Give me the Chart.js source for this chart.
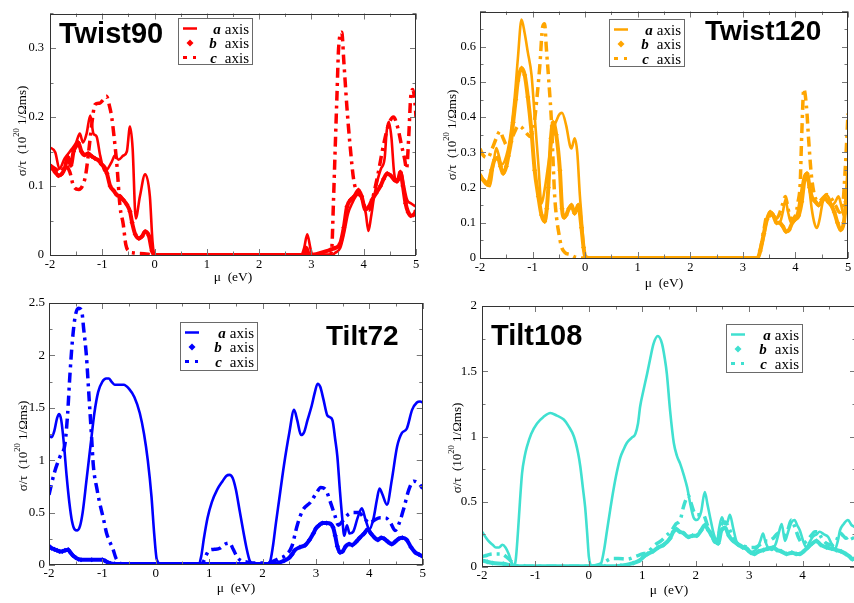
<!DOCTYPE html>
<html><head><meta charset="utf-8">
<script src="https://cdn.jsdelivr.net/npm/chart.js@4/dist/chart.umd.min.js"></script>
<style>
html,body{margin:0;padding:0;background:#fff;overflow:hidden;width:854px;height:603px;position:relative}
canvas{position:absolute;display:block}
</style></head><body>
<canvas id="c1" width="427" height="290" style="left:0;top:0"></canvas>
<canvas id="c2" width="427" height="290" style="left:427px;top:0"></canvas>
<canvas id="c3" width="427" height="313" style="left:0;top:290px"></canvas>
<canvas id="c4" width="435" height="313" style="left:427px;top:290px"></canvas>
<script>
// ---------------- data ----------------
const panelTitles = ['Twist90', 'Twist120', 'Tilt72', 'Tilt108'];
const seriesLetters = ['a', 'b', 'c'];
const seriesWord = 'axis';
const xTitle = 'μ  (eV)';
const yTitleParts = ['σ/τ  (10', '20', ' 1/Ωms)'];
const xTickVals = [-2, -1, 0, 1, 2, 3, 4, 5];
const xTickValsCut = [-2, -1, 0, 1, 2, 3, 4];
const yTicksTwist90 = [0, 0.1, 0.2, 0.3];
const yTicksTwist120 = [0, 0.1, 0.2, 0.3, 0.4, 0.5, 0.6];
const yTicksTilt72 = [0, 0.5, 1, 1.5, 2, 2.5];
const yTicksTilt108 = [0, 0.5, 1, 1.5, 2];

const twist90A = [[-2,.156],[-1.9,.149],[-1.82,.125],[-1.72,.14],[-1.65,.147],[-1.58,.154],[-1.5,.163],[-1.43,.176],[-1.37,.163],[-1.3,.176],[-1.23,.202],[-1.17,.176],[-1.11,.172],[-1.04,.144],[-0.95,.121],[-0.82,.135],[-0.76,.144],[-0.69,.138],[-0.6,.144],[-0.53,.15],[-0.47,.186],[-0.42,.155],[-0.36,.053],[-0.28,.085],[-0.18,.117],[-0.09,.085],[-0.04,.02],[0,0],[2.8,0],[2.86,.01],[2.92,.03],[2.98,.01],[3.02,0],[3.4,0],[3.45,.003],[3.55,.01],[3.62,.03],[3.7,.06],[3.78,.075],[3.85,.085],[3.92,.09],[3.98,.08],[4.04,.06],[4.09,.035],[4.14,.055],[4.2,.085],[4.27,.11],[4.33,.125],[4.4,.14],[4.44,.18],[4.48,.193],[4.53,.17],[4.58,.12],[4.63,.105],[4.68,.11],[4.72,.12],[4.77,.1],[4.83,.08],[4.9,.075],[5,.07]];
const twist90B = [[-2,.13],[-1.95,.125],[-1.9,.12],[-1.84,.115],[-1.78,.117],[-1.72,.125],[-1.66,.142],[-1.6,.13],[-1.55,.15],[-1.5,.158],[-1.46,.163],[-1.4,.15],[-1.34,.145],[-1.27,.147],[-1.2,.143],[-1.14,.14],[-1.07,.137],[-1.02,.132],[-0.96,.127],[-0.91,.118],[-0.85,.1],[-0.78,.093],[-0.72,.087],[-0.66,.085],[-0.6,.08],[-0.53,.073],[-0.47,.063],[-0.43,.047],[-0.37,.03],[-0.3,.024],[-0.24,.027],[-0.18,.034],[-0.11,.028],[-0.05,.006],[0,0],[2.85,0],[2.9,.01],[2.96,0],[3.36,.0075],[3.45,.01],[3.55,.0165],[3.62,.04],[3.68,.07],[3.75,.08],[3.82,.085],[3.9,.094],[3.96,.085],[4.03,.066],[4.1,.07],[4.16,.08],[4.24,.09],[4.32,.1],[4.38,.11],[4.45,.118],[4.52,.115],[4.6,.108],[4.66,.11],[4.7,.12],[4.75,.1],[4.8,.075],[4.85,.062],[4.9,.057],[4.95,.058],[5,.064]];
const twist90C = [[-2,.13],[-1.9,.125],[-1.8,.12],[-1.7,.13],[-1.62,.12],[-1.55,.1],[-1.45,.095],[-1.38,.1],[-1.32,.115],[-1.26,.15],[-1.2,.19],[-1.14,.218],[-1.05,.22],[-0.98,.225],[-0.92,.23],[-0.86,.215],[-0.82,.2],[-0.78,.175],[-0.72,.13],[-0.66,.07],[-0.6,.045],[-0.55,.015],[-0.5,.006],[-0.4,.003],[-0.2,.002],[0,0],[3.35,0],[3.39,.01],[3.42,.074],[3.46,.167],[3.49,.235],[3.52,.3],[3.58,.323],[3.62,.28],[3.68,.213],[3.74,.158],[3.81,.108],[3.88,.09],[3.95,.085],[4.02,.07],[4.1,.065],[4.18,.085],[4.28,.12],[4.38,.16],[4.48,.19],[4.57,.2],[4.65,.185],[4.72,.16],[4.78,.14],[4.82,.125],[4.86,.17],[4.9,.23],[4.94,.24],[4.98,.22],[5,.2]];

const twist120A = [[-2,.24],[-1.9,.21],[-1.81,.204],[-1.75,.26],[-1.69,.312],[-1.64,.29],[-1.59,.265],[-1.52,.28],[-1.43,.34],[-1.34,.457],[-1.28,.566],[-1.21,.677],[-1.15,.638],[-1.09,.584],[-1.02,.52],[-0.96,.403],[-0.89,.267],[-0.83,.154],[-0.77,.195],[-0.7,.267],[-0.61,.358],[-0.51,.403],[-0.44,.412],[-0.36,.376],[-0.29,.32],[-0.26,.311],[-0.2,.34],[-0.15,.3],[-0.1,.177],[-0.07,.12],[-0.03,.04],[0,0],[3.28,0],[3.33,.02],[3.4,.06],[3.46,.11],[3.52,.13],[3.58,.125],[3.64,.1],[3.7,.1],[3.76,.13],[3.81,.165],[3.86,.13],[3.92,.1],[3.98,.105],[4.04,.13],[4.1,.18],[4.16,.23],[4.21,.24],[4.26,.2],[4.31,.14],[4.36,.1],[4.41,.085],[4.46,.11],[4.52,.16],[4.58,.18],[4.64,.17],[4.7,.15],[4.76,.16],[4.82,.175],[4.87,.15],[4.92,.12],[4.96,.13],[5,.16]];
const twist120B = [[-2,.235],[-1.93,.22],[-1.85,.213],[-1.78,.25],[-1.72,.28],[-1.66,.285],[-1.61,.26],[-1.56,.24],[-1.5,.26],[-1.46,.29],[-1.41,.33],[-1.37,.385],[-1.32,.45],[-1.28,.503],[-1.21,.539],[-1.15,.52],[-1.09,.457],[-1.02,.358],[-0.96,.249],[-0.89,.175],[-0.83,.122],[-0.77,.104],[-0.73,.14],[-0.7,.2],[-0.65,.34],[-0.61,.385],[-0.55,.35],[-0.48,.249],[-0.44,.14],[-0.4,.115],[-0.36,.122],[-0.31,.14],[-0.26,.15],[-0.2,.127],[-0.13,.15],[-0.07,.086],[-0.03,.03],[0,.005],[0.05,0],[3.28,0],[3.33,.02],[3.4,.07],[3.46,.11],[3.52,.13],[3.58,.12],[3.64,.1],[3.7,.1],[3.76,.09],[3.82,.075],[3.88,.08],[3.94,.1],[4.0,.11],[4.06,.12],[4.12,.16],[4.17,.22],[4.22,.24],[4.27,.2],[4.32,.17],[4.38,.16],[4.44,.15],[4.5,.16],[4.56,.17],[4.62,.16],[4.68,.15],[4.74,.13],[4.8,.1],[4.86,.08],[4.92,.1],[4.96,.16],[5,.24]];
const twist120C = [[-2,.31],[-1.93,.29],[-1.85,.285],[-1.77,.31],[-1.69,.34],[-1.62,.36],[-1.56,.34],[-1.49,.32],[-1.42,.33],[-1.35,.355],[-1.27,.375],[-1.2,.37],[-1.12,.355],[-1.04,.345],[-0.98,.37],[-0.92,.45],[-0.86,.55],[-0.81,.655],[-0.77,.665],[-0.74,.6],[-0.69,.5],[-0.64,.385],[-0.61,.276],[-0.58,.177],[-0.54,.11],[-0.5,.07],[-0.45,.032],[-0.38,.015],[-0.29,.01],[-0.2,.003],[0,0],[3.28,0],[3.34,.03],[3.4,.08],[3.46,.12],[3.52,.12],[3.6,.11],[3.68,.12],[3.75,.15],[3.81,.175],[3.86,.14],[3.92,.11],[4.0,.12],[4.05,.16],[4.09,.21],[4.12,.35],[4.16,.48],[4.21,.43],[4.25,.34],[4.3,.24],[4.36,.18],[4.44,.16],[4.52,.17],[4.6,.18],[4.68,.17],[4.76,.15],[4.84,.13],[4.9,.15],[4.95,.26],[5,.41]];

const tilt72A = [[-2,1.23],[-1.95,1.22],[-1.9,1.28],[-1.85,1.4],[-1.81,1.44],[-1.77,1.38],[-1.72,1.15],[-1.67,.85],[-1.62,.6],[-1.57,.42],[-1.52,.34],[-1.47,.33],[-1.42,.37],[-1.37,.5],[-1.3,.8],[-1.22,1.15],[-1.15,1.45],[-1.08,1.65],[-1.0,1.75],[-0.93,1.78],[-0.88,1.78],[-0.83,1.75],[-0.77,1.72],[-0.7,1.72],[-0.6,1.72],[-0.5,1.68],[-0.4,1.6],[-0.3,1.45],[-0.22,1.25],[-0.15,1.0],[-0.08,.65],[-0.03,.3],[0.02,.05],[0.1,.01],[0.8,.01],[0.85,.08],[0.9,.25],[0.97,.45],[1.05,.6],[1.15,.72],[1.25,.8],[1.32,.85],[1.38,.86],[1.44,.83],[1.5,.72],[1.57,.52],[1.64,.32],[1.7,.16],[1.76,.04],[1.82,.01],[2.1,.01],[2.15,.05],[2.2,.2],[2.25,.4],[2.31,.62],[2.4,.95],[2.5,1.26],[2.59,1.48],[2.65,1.38],[2.72,1.24],[2.78,1.27],[2.84,1.38],[2.92,1.52],[2.98,1.65],[3.03,1.73],[3.08,1.7],[3.14,1.58],[3.21,1.43],[3.26,1.41],[3.31,1.38],[3.36,1.2],[3.4,1.04],[3.45,.7],[3.49,.46],[3.53,.28],[3.58,.38],[3.63,.3],[3.7,.32],[3.78,.45],[3.86,.54],[3.93,.43],[4.0,.34],[4.08,.45],[4.14,.62],[4.19,.73],[4.24,.68],[4.33,.575],[4.42,.81],[4.52,1.13],[4.61,1.26],[4.7,1.3],[4.8,1.48],[4.89,1.55],[4.95,1.56],[5,1.55]];
const tilt72B = [[-2,.18],[-1.95,.16],[-1.9,.15],[-1.85,.14],[-1.8,.13],[-1.75,.13],[-1.7,.14],[-1.64,.146],[-1.6,.12],[-1.55,.09],[-1.5,.07],[-1.45,.055],[-1.4,.05],[-1.2,.05],[-1.0,.05],[-0.95,.04],[-0.9,.025],[-0.85,.015],[-0.77,.01],[2.2,.01],[2.3,.02],[2.4,.04],[2.5,.07],[2.55,.1],[2.6,.14],[2.7,.17],[2.8,.19],[2.88,.24],[2.95,.3],[3.0,.35],[3.06,.38],[3.12,.4],[3.2,.4],[3.28,.39],[3.32,.36],[3.36,.28],[3.4,.18],[3.45,.12],[3.5,.13],[3.56,.18],[3.62,.2],[3.68,.19],[3.75,.22],[3.82,.26],[3.9,.3],[3.97,.34],[4.03,.3],[4.1,.26],[4.16,.24],[4.22,.26],[4.28,.25],[4.35,.22],[4.42,.2],[4.48,.22],[4.55,.25],[4.62,.26],[4.7,.24],[4.78,.17],[4.86,.12],[4.93,.1],[5,.08]];
const tilt72C = [[-2,.67],[-1.9,.88],[-1.79,1.04],[-1.7,1.16],[-1.65,1.45],[-1.61,1.8],[-1.56,2.15],[-1.51,2.37],[-1.45,2.45],[-1.39,2.43],[-1.35,2.25],[-1.3,2.0],[-1.25,1.6],[-1.2,1.2],[-1.17,.95],[-1.1,.72],[-1.05,.59],[-0.98,.44],[-0.92,.3],[-0.86,.22],[-0.8,.15],[-0.75,.07],[-0.7,.03],[-0.6,.01],[0.85,.01],[0.9,.04],[0.95,.1],[1.0,.14],[1.1,.15],[1.2,.16],[1.3,.2],[1.38,.21],[1.45,.15],[1.52,.08],[1.6,.04],[1.7,.03],[1.8,.02],[2.1,.02],[2.3,.06],[2.45,.1],[2.55,.18],[2.65,.38],[2.75,.52],[2.9,.6],[3.0,.68],[3.09,.74],[3.18,.72],[3.27,.6],[3.35,.48],[3.42,.38],[3.5,.42],[3.6,.48],[3.7,.5],[3.8,.5],[3.9,.45],[4.0,.4],[4.1,.43],[4.2,.45],[4.3,.45],[4.4,.4],[4.48,.33],[4.56,.4],[4.65,.55],[4.74,.72],[4.83,.8],[4.92,.78],[5,.73]];

const tilt108A = [[-2,.27],[-1.95,.24],[-1.88,.2],[-1.8,.17],[-1.74,.15],[-1.68,.15],[-1.62,.17],[-1.56,.15],[-1.5,.1],[-1.45,.04],[-1.41,.01],[-1.37,.05],[-1.33,.25],[-1.29,.5],[-1.25,.72],[-1.2,.85],[-1.16,.92],[-1.08,1.02],[-0.97,1.1],[-0.85,1.15],[-0.72,1.18],[-0.6,1.16],[-0.47,1.13],[-0.38,1.08],[-0.28,1.0],[-0.2,.87],[-0.16,.77],[-0.11,.6],[-0.07,.46],[-0.03,.25],[0,.08],[0.05,.01],[0.15,.01],[0.22,.02],[0.28,.12],[0.34,.28],[0.4,.44],[0.46,.59],[0.52,.72],[0.59,.84],[0.65,.9],[0.71,.95],[0.8,.99],[0.87,1.02],[0.92,1.1],[0.96,1.23],[1.02,1.35],[1.09,1.48],[1.15,1.6],[1.21,1.71],[1.29,1.77],[1.37,1.71],[1.42,1.6],[1.46,1.48],[1.52,1.2],[1.59,.95],[1.65,.85],[1.71,.79],[1.78,.7],[1.84,.61],[1.9,.48],[1.96,.38],[2.02,.36],[2.1,.42],[2.17,.575],[2.22,.48],[2.27,.38],[2.34,.25],[2.4,.2],[2.44,.3],[2.49,.38],[2.54,.33],[2.59,.34],[2.64,.4],[2.7,.3],[2.76,.2],[2.84,.17],[2.91,.15],[3.0,.115],[3.08,.12],[3.16,.15],[3.21,.2],[3.26,.256],[3.3,.2],[3.35,.15],[3.42,.13],[3.5,.18],[3.56,.27],[3.61,.33],[3.67,.2],[3.73,.27],[3.79,.34],[3.85,.36],[3.9,.32],[3.95,.28],[4.01,.2],[4.07,.15],[4.13,.19],[4.19,.23],[4.26,.25],[4.32,.27],[4.4,.25],[4.48,.23],[4.54,.18],[4.6,.13],[4.66,.2],[4.7,.28],[4.77,.33],[4.85,.36],[4.92,.32],[4.96,.31],[5,.3]];
const tilt108B = [[-2,.05],[-1.9,.04],[-1.8,.03],[-1.6,.025],[-1.45,.01],[-1.2,.005],[0,.005],[0.3,.005],[0.6,.01],[0.83,.03],[0.95,.05],[1.02,.077],[1.1,.1],[1.2,.12],[1.3,.15],[1.4,.17],[1.52,.22],[1.58,.27],[1.64,.29],[1.7,.27],[1.77,.26],[1.86,.23],[1.94,.24],[2.02,.24],[2.1,.28],[2.17,.32],[2.24,.28],[2.3,.24],[2.36,.2],[2.42,.18],[2.48,.28],[2.55,.3],[2.62,.24],[2.7,.2],[2.8,.17],[2.88,.15],[2.96,.14],[3.03,.11],[3.1,.1],[3.18,.12],[3.27,.13],[3.35,.14],[3.45,.15],[3.52,.13],[3.6,.12],[3.7,.1],[3.8,.11],[3.88,.1],[3.95,.1],[4.02,.12],[4.1,.15],[4.18,.18],[4.26,.2],[4.34,.17],[4.45,.15],[4.55,.14],[4.63,.13],[4.72,.12],[4.81,.1],[4.88,.08],[4.93,.06],[5,.07]];
const tilt108C = [[-2,.08],[-1.9,.09],[-1.81,.1],[-1.72,.1],[-1.63,.1],[-1.55,.08],[-1.47,.05],[-1.4,.02],[-1.35,.01],[-1.0,.005],[0,.005],[0.2,.02],[0.3,.04],[0.43,.065],[0.55,.065],[0.71,.06],[0.87,.08],[1.0,.1],[1.09,.11],[1.17,.14],[1.24,.17],[1.35,.2],[1.45,.24],[1.55,.28],[1.63,.33],[1.71,.36],[1.77,.46],[1.82,.52],[1.86,.55],[1.92,.48],[1.97,.42],[2.02,.4],[2.08,.4],[2.14,.4],[2.22,.32],[2.3,.24],[2.36,.19],[2.43,.25],[2.49,.33],[2.55,.345],[2.62,.3],[2.7,.22],[2.8,.17],[2.9,.16],[3.0,.15],[3.1,.15],[3.2,.17],[3.28,.2],[3.36,.2],[3.45,.22],[3.55,.26],[3.65,.24],[3.72,.28],[3.79,.36],[3.86,.3],[3.93,.22],[4.0,.18],[4.08,.2],[4.16,.24],[4.23,.27],[4.29,.27],[4.36,.22],[4.45,.18],[4.55,.17],[4.63,.2],[4.7,.26],[4.76,.24],[4.81,.22],[4.9,.24],[4.96,.2],[5,.18]];

// ---------------- plugins ----------------
const SERIF = '"Liberation Serif", "Times New Roman", serif';
const frameTicks = {
  id: 'frameTicks',
  afterDatasetsDraw(chart, args, o) {
    const { ctx, chartArea: a, scales: { x, y } } = chart;
    ctx.save();
    ctx.strokeStyle = o.tickColor; ctx.lineWidth = 1;
    const isMaj = (v, m) => Math.abs(v / m - Math.round(v / m)) < 1e-6;
    const n1 = Math.round((x.max - x.min) / o.minorX);
    for (let i = 0; i <= n1; i++) {
      const v = x.min + i * o.minorX;
      const L = isMaj(v, o.majorX) ? 6 : 3.5;
      const p = Math.round(x.getPixelForValue(v)) + 0.5;
      ctx.beginPath();
      ctx.moveTo(p, a.bottom); ctx.lineTo(p, a.bottom - L);
      ctx.moveTo(p, a.top); ctx.lineTo(p, a.top + L);
      ctx.stroke();
    }
    const n2 = Math.round((y.max - y.min) / o.minorY);
    for (let i = 0; i <= n2; i++) {
      const v = y.min + i * o.minorY;
      const L = isMaj(v, o.majorY) ? 6 : 3.5;
      const p = Math.round(y.getPixelForValue(v)) + 0.5;
      ctx.beginPath();
      ctx.moveTo(a.left, p); ctx.lineTo(a.left + L, p);
      ctx.moveTo(a.right, p); ctx.lineTo(a.right - L, p);
      ctx.stroke();
    }
    ctx.strokeStyle = o.frameColor; ctx.lineWidth = 1;
    ctx.strokeRect(Math.round(a.left) + 0.5, Math.round(a.top) + 0.5, Math.round(a.width) - 1, Math.round(a.height) - 1);
    ctx.restore();
  }
};

const deco = {
  id: 'deco',
  afterDraw(chart, args, o) {
    const ctx = chart.ctx;
    const ox = o.offX, oy = o.offY;
    ctx.save();
    ctx.fillStyle = '#000';
    ctx.font = 'bold ' + o.titleSize + 'px "Liberation Sans", Arial, sans-serif';
    ctx.textAlign = 'left'; ctx.textBaseline = 'alphabetic';
    ctx.fillText(o.title, o.titleX - ox, o.titleY - oy);
    const L = o.legend, lx = L.x - ox, ly = L.y - oy;
    ctx.fillStyle = '#fff'; ctx.fillRect(lx, ly, L.w, L.h);
    ctx.strokeStyle = '#6a6a6a'; ctx.lineWidth = 1;
    ctx.strokeRect(lx + 0.5, ly + 0.5, L.w, L.h);
    for (let i = 0; i < 3; i++) {
      const ry = ly + 10.5 + i * 14.5;
      ctx.fillStyle = o.color; ctx.strokeStyle = o.color;
      if (i === 0) {
        ctx.lineWidth = 2.5; ctx.beginPath(); ctx.moveTo(lx + 5, ry); ctx.lineTo(lx + 19, ry); ctx.stroke();
      } else if (i === 1) {
        ctx.beginPath(); ctx.moveTo(lx + 12, ry - 3.5); ctx.lineTo(lx + 15.5, ry); ctx.lineTo(lx + 12, ry + 3.5); ctx.lineTo(lx + 8.5, ry); ctx.closePath(); ctx.fill();
      } else {
        ctx.fillRect(lx + 5, ry - 1.5, 4, 3); ctx.fillRect(lx + 15, ry - 1.5, 3, 3);
      }
      ctx.fillStyle = '#000';
      ctx.font = '15px ' + SERIF; ctx.textAlign = 'right';
      const wx = lx + L.w - 3;
      ctx.fillText(seriesWord, wx, ry + 5);
      const ww = ctx.measureText(seriesWord).width;
      ctx.font = 'italic bold 15px ' + SERIF;
      ctx.fillText(seriesLetters[i], wx - ww - (i === 0 ? 4 : 8), ry + 5);
    }
    ctx.fillStyle = '#000';
    ctx.font = '13.5px ' + SERIF; ctx.textAlign = 'center'; ctx.textBaseline = 'middle';
    ctx.fillText(xTitle, o.xtX - ox, o.xtY - oy);
    ctx.translate(o.ytX - ox, o.ytY - oy);
    ctx.rotate(-Math.PI / 2);
    ctx.textAlign = 'left'; ctx.textBaseline = 'middle';
    const fMain = '13px ' + SERIF, fSup = '8.5px ' + SERIF;
    ctx.font = fMain; const w0 = ctx.measureText(yTitleParts[0]).width, w2 = ctx.measureText(yTitleParts[2]).width;
    ctx.font = fSup; const w1 = ctx.measureText(yTitleParts[1]).width;
    let cx = -(w0 + w1 + w2) / 2;
    ctx.font = fMain; ctx.fillText(yTitleParts[0], cx, 0); cx += w0;
    ctx.font = fSup; ctx.fillText(yTitleParts[1], cx, -6); cx += w1;
    ctx.font = fMain; ctx.fillText(yTitleParts[2], cx, 0);
    ctx.restore();
  }
};

const toXY = arr => arr.map(p => ({ x: p[0], y: p[1] }));

function makePanel(p) {
  const col = p.color;
  new Chart(document.getElementById(p.id), {
    type: 'line',
    data: {
      datasets: [
        { label: seriesLetters[0] + ' ' + seriesWord, data: toXY(p.a), borderColor: col, borderWidth: 2.6, pointRadius: 0, cubicInterpolationMode: 'monotone', order: 3 },
        { label: seriesLetters[1] + ' ' + seriesWord, data: toXY(p.b), borderColor: col, backgroundColor: col, borderWidth: 4, pointStyle: 'rectRot', pointRadius: 2.6, pointBorderWidth: 0, pointBackgroundColor: col, cubicInterpolationMode: 'monotone', order: 2 },
        { label: seriesLetters[2] + ' ' + seriesWord, data: toXY(p.c), borderColor: col, borderWidth: 3.5, borderDash: [10, 5, 3, 5], pointRadius: 0, cubicInterpolationMode: 'monotone', order: 1 }
      ]
    },
    options: {
      responsive: false, animation: false, events: [],
      layout: { padding: { top: p.padTop, right: p.padRight, left: 0, bottom: 0 } },
      scales: {
        x: {
          type: 'linear', min: -2, max: 5,
          grid: { display: false, drawTicks: false, tickLength: 0 }, border: { display: false },
          ticks: { color: '#000', font: { family: SERIF, size: p.fs }, padding: p.xPad, maxRotation: 0, autoSkip: false, callback: v => String(v) },
          afterBuildTicks: s => { s.ticks = p.xTicks.map(v => ({ value: v })); },
          afterFit: s => { s.height = p.xH; }
        },
        y: {
          type: 'linear', min: 0, max: p.yMax,
          grid: { display: false, drawTicks: false, tickLength: 0 }, border: { display: false },
          ticks: { color: '#000', font: { family: SERIF, size: p.fs }, padding: p.yPad, autoSkip: false, callback: v => String(v) },
          afterBuildTicks: s => { s.ticks = p.yTicks.map(v => ({ value: v })); },
          afterFit: s => { s.width = p.yW; }
        }
      },
      plugins: {
        legend: { display: false }, tooltip: { enabled: false },
        frameTicks: { majorX: 1, minorX: 0.5, majorY: p.majY, minorY: p.minY, tickColor: '#777', frameColor: '#333' },
        deco: { offX: p.offX, offY: p.offY, color: col, title: p.title, titleSize: p.titleSize, titleX: p.titleX, titleY: p.titleY,
                legend: p.legend, xtX: p.xtX, xtY: p.xtY, ytX: p.ytX, ytY: p.ytY }
      }
    },
    plugins: [frameTicks, deco]
  });
}

makePanel({ id: 'c1', offX: 0, offY: 0, color: '#ff0000', a: twist90A, b: twist90B, c: twist90C,
  padTop: 1, padRight: 11, yW: 50, xH: 35, yMax: 0.35, yTicks: yTicksTwist90, xTicks: xTickVals, majY: 0.1, minY: 0.05, yPad: 6, xPad: 2, fs: 12.5,
  title: panelTitles[0], titleSize: 29, titleX: 59, titleY: 43, legend: { x: 178, y: 18, w: 74, h: 46 },
  xtX: 233, xtY: 277, ytX: 23, ytY: 131 });
makePanel({ id: 'c2', offX: 427, offY: 0, color: '#ffa500', a: twist120A, b: twist120B, c: twist120C,
  padTop: 1, padRight: 6, yW: 53, xH: 32, yMax: 0.7, yTicks: yTicksTwist120, xTicks: xTickVals, majY: 0.1, minY: 0.05, yPad: 4, xPad: 2, fs: 12.5,
  title: panelTitles[1], titleSize: 28, titleX: 705, titleY: 40, legend: { x: 609, y: 19, w: 75, h: 47 },
  xtX: 664, xtY: 283, ytX: 453, ytY: 135 });
makePanel({ id: 'c3', offX: 0, offY: 290, color: '#0000ff', a: tilt72A, b: tilt72B, c: tilt72C,
  padTop: 13, padRight: 3, yW: 49, xH: 38, yMax: 2.5, yTicks: yTicksTilt72, xTicks: xTickVals, majY: 0.5, minY: 0.25, yPad: 4, xPad: 1, fs: 13,
  title: panelTitles[2], titleSize: 28, titleX: 326, titleY: 345, legend: { x: 180, y: 322, w: 77, h: 48 },
  xtX: 236, xtY: 588, ytX: 24, ytY: 446 });
makePanel({ id: 'c4', offX: 427, offY: 290, color: '#40e0d0', a: tilt108A, b: tilt108B, c: tilt108C,
  padTop: 16, padRight: 6, yW: 55, xH: 36, yMax: 2, yTicks: yTicksTilt108, xTicks: xTickValsCut, majY: 0.5, minY: 0.25, yPad: 5, xPad: 1, fs: 13,
  title: panelTitles[3], titleSize: 29, titleX: 491, titleY: 345, legend: { x: 726, y: 324, w: 76, h: 48 },
  xtX: 669, xtY: 590, ytX: 458, ytY: 448 });
</script>
</body></html>
